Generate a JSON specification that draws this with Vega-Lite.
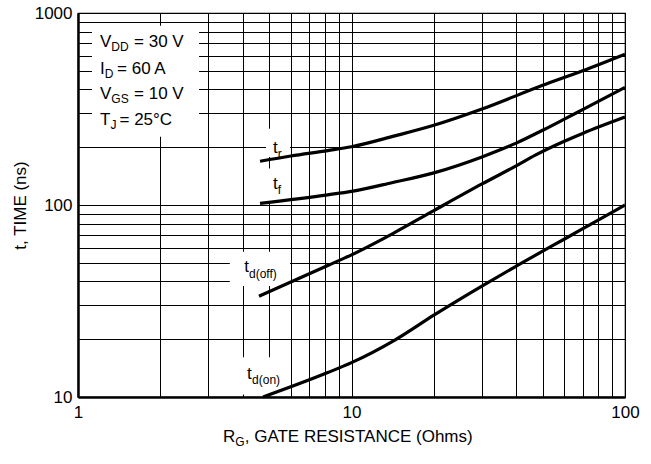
{
  "$schema": "https://vega.github.io/schema/vega-lite/v6.json",
  "width": 547,
  "height": 384,
  "autosize": {"type": "none"},
  "padding": {"left": 78, "top": 13, "right": 26, "bottom": 67},
  "background": "white",
  "config": {
    "font": "Liberation Sans, Arial, sans-serif",
    "view": {"stroke": "black", "strokeWidth": 1.2}
  },
  "datasets": {
    "curves": [
      {"series": "tr", "x": 4.63, "y": 169}, {"series": "tr", "x": 6, "y": 180}, {"series": "tr", "x": 8.19, "y": 192}, {"series": "tr", "x": 10, "y": 201}, {"series": "tr", "x": 14.4, "y": 229}, {"series": "tr", "x": 20, "y": 260}, {"series": "tr", "x": 30, "y": 316}, {"series": "tr", "x": 50, "y": 420}, {"series": "tr", "x": 70, "y": 500}, {"series": "tr", "x": 100, "y": 610},
      {"series": "tf", "x": 4.63, "y": 102}, {"series": "tf", "x": 8.19, "y": 113}, {"series": "tf", "x": 10, "y": 117.7}, {"series": "tf", "x": 14.16, "y": 131}, {"series": "tf", "x": 20, "y": 147}, {"series": "tf", "x": 30, "y": 178}, {"series": "tf", "x": 40, "y": 210}, {"series": "tf", "x": 50, "y": 245}, {"series": "tf", "x": 60, "y": 280}, {"series": "tf", "x": 70, "y": 314}, {"series": "tf", "x": 100, "y": 410},
      {"series": "tdoff", "x": 4.59, "y": 33.5}, {"series": "tdoff", "x": 8.19, "y": 48.4}, {"series": "tdoff", "x": 10, "y": 55}, {"series": "tdoff", "x": 14.16, "y": 71}, {"series": "tdoff", "x": 20, "y": 93.5}, {"series": "tdoff", "x": 30, "y": 128.7}, {"series": "tdoff", "x": 40, "y": 160}, {"series": "tdoff", "x": 47, "y": 182}, {"series": "tdoff", "x": 60, "y": 215}, {"series": "tdoff", "x": 70, "y": 236}, {"series": "tdoff", "x": 100, "y": 287},
      {"series": "tdon", "x": 4.75, "y": 10}, {"series": "tdon", "x": 8.19, "y": 13.4}, {"series": "tdon", "x": 10, "y": 15.1}, {"series": "tdon", "x": 14.4, "y": 19.8}, {"series": "tdon", "x": 20, "y": 26.7}, {"series": "tdon", "x": 30.4, "y": 38.3}, {"series": "tdon", "x": 40, "y": 48}, {"series": "tdon", "x": 50, "y": 57.5}, {"series": "tdon", "x": 59.9, "y": 66.3}, {"series": "tdon", "x": 74, "y": 78.6}, {"series": "tdon", "x": 100, "y": 100}
    ],
    "boxes": [
      {"name": "conditions", "x": 1.125, "x2": 2.77, "y": 227, "y2": 857},
      {"name": "tr", "x": 4.87, "x2": 5.96, "y": 178, "y2": 249.7},
      {"name": "tf", "x": 4.87, "x2": 5.96, "y": 103, "y2": 155},
      {"name": "tdoff", "x": 3.59, "x2": 5.96, "y": 37.9, "y2": 57},
      {"name": "tdon", "x": 3.9, "x2": 5.71, "y": 10.3, "y2": 16.1}
    ],
    "labels": [
      {"kind": "main", "x": 1.204, "y": 703, "text": "V"},
      {"kind": "sub", "x": 1.324, "y": 663, "text": "DD"},
      {"kind": "main", "x": 1.603, "y": 703, "text": "= 30 V"},
      {"kind": "main", "x": 1.204, "y": 513.5, "text": "I"},
      {"kind": "sub", "x": 1.252, "y": 484, "text": "D"},
      {"kind": "main", "x": 1.389, "y": 513.5, "text": "= 60 A"},
      {"kind": "main", "x": 1.204, "y": 379, "text": "V"},
      {"kind": "sub", "x": 1.324, "y": 358, "text": "GS"},
      {"kind": "main", "x": 1.603, "y": 379, "text": "= 10 V"},
      {"kind": "main", "x": 1.204, "y": 277.4, "text": "T"},
      {"kind": "sub", "x": 1.314, "y": 261.6, "text": "J"},
      {"kind": "main", "x": 1.418, "y": 277.4, "text": "= 25°C"},
      {"kind": "main", "x": 5.16, "y": 197.9, "text": "t"},
      {"kind": "sub", "x": 5.38, "y": 184.6, "text": "r"},
      {"kind": "main", "x": 5.16, "y": 128.7, "text": "t"},
      {"kind": "sub", "x": 5.38, "y": 120, "text": "f"},
      {"kind": "main", "x": 4.05, "y": 47.5, "text": "t"},
      {"kind": "sub", "x": 4.22, "y": 43.5, "text": "d(off)"},
      {"kind": "main", "x": 4.15, "y": 13.24, "text": "t"},
      {"kind": "sub", "x": 4.33, "y": 12.3, "text": "d(on)"},
      {"kind": "main", "x": 3.39, "y": 6.19, "text": "R"},
      {"kind": "sub", "x": 3.76, "y": 5.83, "text": "G"},
      {"kind": "main", "x": 4.07, "y": 6.19, "text": ", GATE RESISTANCE (Ohms)"}
    ]
  },
  "encoding": {
    "x": {
      "field": "x",
      "type": "quantitative",
      "scale": {"type": "log", "domain": [1, 100], "nice": false},
      "axis": {
        "values": [1, 2, 3, 4, 5, 6, 7, 8, 9, 10, 20, 30, 40, 50, 60, 70, 80, 90, 100],
        "labelExpr": "datum.value == 1 || datum.value == 10 || datum.value == 100 ? format(datum.value, 'd') : ''",
        "ticks": false,
        "grid": true,
        "gridColor": "black",
        "gridOpacity": 1,
        "gridWidth": 1,
        "domainColor": "black",
        "domainWidth": 2.5,
        "labelFontSize": 17,
        "labelColor": "black",
        "labelPadding": 7,
        "labelFlush": false,
        "labelOverlap": false,
        "title": null
      }
    },
    "y": {
      "field": "y",
      "type": "quantitative",
      "scale": {"type": "log", "domain": [10, 1000], "nice": false},
      "axis": {
        "values": [10, 20, 30, 40, 50, 60, 70, 80, 90, 100, 200, 300, 400, 500, 600, 700, 800, 900, 1000],
        "labelExpr": "datum.value == 10 || datum.value == 100 || datum.value == 1000 ? format(datum.value, 'd') : ''",
        "ticks": false,
        "grid": true,
        "gridColor": "black",
        "gridOpacity": 1,
        "gridWidth": 1,
        "domainColor": "black",
        "domainWidth": 2.5,
        "labelFontSize": 17,
        "labelColor": "black",
        "labelPadding": 6,
        "labelOverlap": false,
        "title": "t, TIME (ns)",
        "titleFontSize": 17,
        "titleFontWeight": "normal",
        "titleColor": "black",
        "titlePadding": 5
      }
    }
  },
  "layer": [
    {
      "data": {"name": "boxes"},
      "mark": {"type": "rect", "fill": "white", "stroke": null},
      "encoding": {
        "x2": {"field": "x2"},
        "y2": {"field": "y2"}
      }
    },
    {
      "data": {"name": "curves"},
      "mark": {"type": "line", "color": "black", "strokeWidth": 3.2, "interpolate": "monotone"},
      "encoding": {
        "detail": {"field": "series", "type": "nominal"},
        "order": {"field": "x", "type": "quantitative"}
      }
    },
    {
      "data": {"name": "labels"},
      "transform": [{"filter": "datum.kind == 'main'"}],
      "mark": {"type": "text", "align": "left", "baseline": "middle", "fontSize": 17, "color": "black"},
      "encoding": {"text": {"field": "text", "type": "nominal"}}
    },
    {
      "data": {"name": "labels"},
      "transform": [{"filter": "datum.kind == 'sub'"}],
      "mark": {"type": "text", "align": "left", "baseline": "middle", "fontSize": 12, "color": "black"},
      "encoding": {"text": {"field": "text", "type": "nominal"}}
    }
  ]
}
